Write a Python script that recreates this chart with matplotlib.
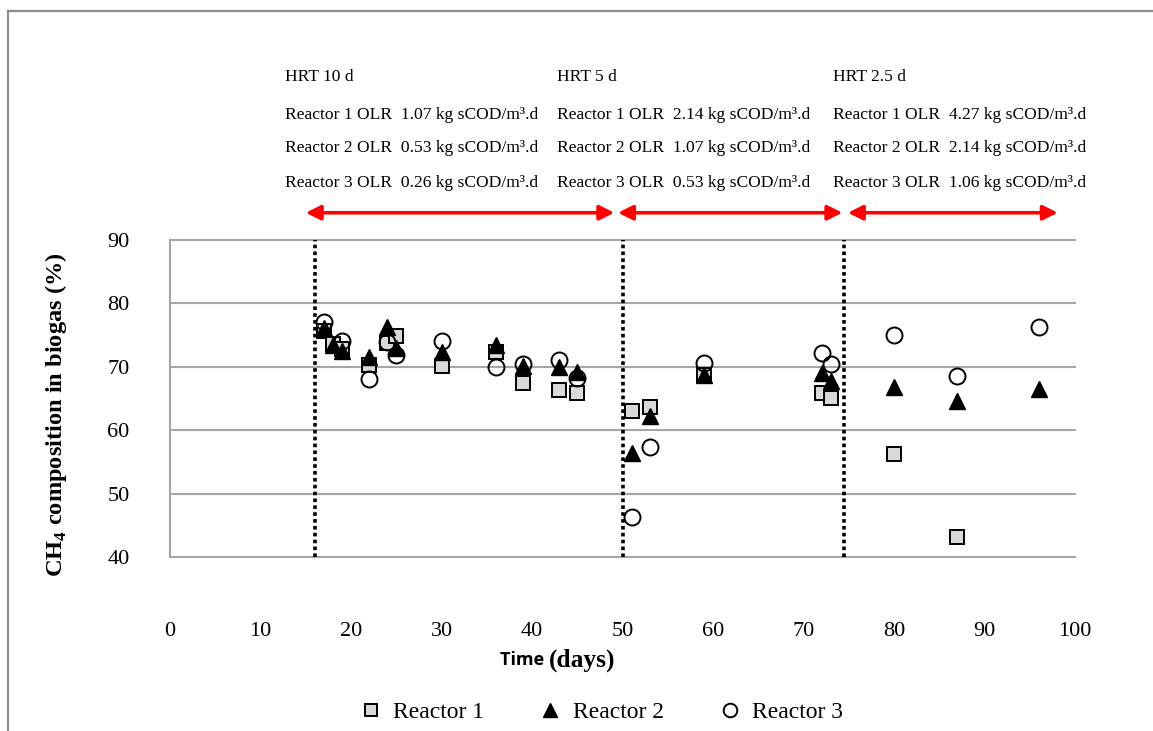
import matplotlib
matplotlib.use("Agg")
import matplotlib.pyplot as plt
from matplotlib.lines import Line2D

plt.rcParams['font.family'] = ['Liberation Serif', 'DejaVu Serif']
plt.rcParams['mathtext.fontset'] = 'custom'
plt.rcParams['mathtext.rm'] = 'Liberation Serif'
plt.rcParams['mathtext.bf'] = 'Liberation Serif:bold'

# CH4 content in biogas (%) per reactor
days_r1 = [17, 18, 19, 22, 24, 25, 30, 36, 39, 43, 45, 51, 53, 59, 72, 73, 80, 87]
ch4_r1 = [75.6, 73.6, 72.8, 70.3, 73.7, 74.8, 70.1, 72.4, 67.5, 66.3, 65.8, 63.0, 63.7, 68.7, 65.9, 65.1, 56.2, 43.2]

days_r2 = [17, 18, 19, 22, 24, 25, 30, 36, 39, 43, 45, 51, 53, 59, 72, 73, 80, 87, 96]
ch4_r2 = [76.1, 73.5, 72.5, 71.5, 76.3, 72.9, 72.4, 73.5, 70.1, 70.0, 69.2, 56.4, 62.2, 68.7, 69.1, 67.7, 66.8, 64.6, 66.5]

days_r3 = [17, 19, 22, 24, 25, 30, 36, 39, 43, 45, 51, 53, 59, 72, 73, 80, 87, 96]
ch4_r3 = [77.1, 74.0, 68.0, 73.9, 71.9, 74.0, 70.0, 70.5, 71.1, 68.3, 46.3, 57.3, 70.6, 72.2, 70.5, 75.0, 68.5, 76.2]

# operating phases
phase_bounds = [16, 50, 74.5]
arrow_spans = [(15.0, 49.1), (49.5, 74.3), (74.9, 98.1)]
phase_text_x = [12.7, 42.8, 73.3]
phase_text = [
    ["HRT 10 d",
     "Reactor 1 OLR  1.07 kg sCOD/m\u00b3.d",
     "Reactor 2 OLR  0.53 kg sCOD/m\u00b3.d",
     "Reactor 3 OLR  0.26 kg sCOD/m\u00b3.d"],
    ["HRT 5 d",
     "Reactor 1 OLR  2.14 kg sCOD/m\u00b3.d",
     "Reactor 2 OLR  1.07 kg sCOD/m\u00b3.d",
     "Reactor 3 OLR  0.53 kg sCOD/m\u00b3.d"],
    ["HRT 2.5 d",
     "Reactor 1 OLR  4.27 kg sCOD/m\u00b3.d",
     "Reactor 2 OLR  2.14 kg sCOD/m\u00b3.d",
     "Reactor 3 OLR  1.06 kg sCOD/m\u00b3.d"],
]
text_rows_y = [115.7, 109.7, 104.5, 99.0]

y_ticks = [40, 50, 60, 70, 80, 90]
x_ticks = [0, 10, 20, 30, 40, 50, 60, 70, 80, 90, 100]

fig = plt.figure(figsize=(11.53, 7.31), dpi=100)
ax = fig.add_axes([170 / 1153, 1 - 557 / 731, 905 / 1153, 317 / 731])
ax.set_xlim(0, 100)
ax.set_ylim(40, 90)

grid_c = '#a6a6a6'
for yv in y_ticks:
    ax.axhline(yv, color=grid_c, lw=1.5, zorder=1, clip_on=False)
ax.plot([0, 0], [40, 90], color=grid_c, lw=1.5, zorder=1, clip_on=False)
for s in ax.spines.values():
    s.set_visible(False)

for xb in phase_bounds:
    ax.plot([xb, xb], [40, 90], color='black', lw=2.6, linestyle=(0, (1, 0.9)),
            zorder=2, clip_on=False)

ax.plot(days_r1, ch4_r1, 's', ms=10, mfc='#d9d9d9', mec='black', mew=1.4,
        label='Reactor 1', zorder=3, clip_on=False)
ax.plot(days_r2, ch4_r2, '^', ms=12, mfc='black', mec='black', mew=1,
        label='Reactor 2', zorder=4, clip_on=False)
ax.plot(days_r3, ch4_r3, 'o', ms=11.5, mfc='none', mec='black', mew=1.4,
        label='Reactor 3', zorder=5, clip_on=False)

# phase arrows and operating conditions
for (x0, x1) in arrow_spans:
    ax.annotate('', xy=(x1, 94.3), xytext=(x0, 94.3), xycoords='data',
                annotation_clip=False,
                arrowprops=dict(arrowstyle='<|-|>', color='red', lw=2.6,
                                mutation_scale=22, shrinkA=0, shrinkB=0))
for xt, lines in zip(phase_text_x, phase_text):
    for yt, s in zip(text_rows_y, lines):
        ax.text(xt, yt, s, fontsize=12.6, ha='left', va='center', clip_on=False)

ax.set_yticks(y_ticks)
ax.set_xticks(x_ticks)
ax.tick_params(axis='y', length=0, pad=29, labelsize=16)
ax.tick_params(axis='x', length=0, pad=47, labelsize=16)

ax.set_ylabel(r'CH$_\mathbf{4}$ composition in biogas (%)', fontsize=17.6,
              fontweight='bold')
ax.yaxis.set_label_coords(-0.112, 0.448)

# axis title mixes a sans and a serif face
fig.text(549 / 1153, 1 - 660 / 731, 'Time ', fontsize=13, fontweight='bold',
         family=['Open Sans', 'DejaVu Sans'], ha='right', va='center')
fig.text(549 / 1153, 1 - 660 / 731, '(days)', fontsize=18.3, fontweight='bold',
         ha='left', va='center')

fig.legend(loc='center', bbox_to_anchor=(600 / 1153, 1 - 712 / 731), ncol=3,
           frameon=False, fontsize=17, columnspacing=2.2, handletextpad=0.35,
           handlelength=1.2, markerscale=0.85)

# outer frame (top and left edges)
fig.add_artist(Line2D([8 / 1153, 8 / 1153], [0, 1 - 11 / 731], color='#8c8c8c',
                      lw=1.6, transform=fig.transFigure))
fig.add_artist(Line2D([8 / 1153, 1], [1 - 11 / 731, 1 - 11 / 731], color='#8c8c8c',
                      lw=1.6, transform=fig.transFigure))

fig.savefig('out.png', dpi=100)
